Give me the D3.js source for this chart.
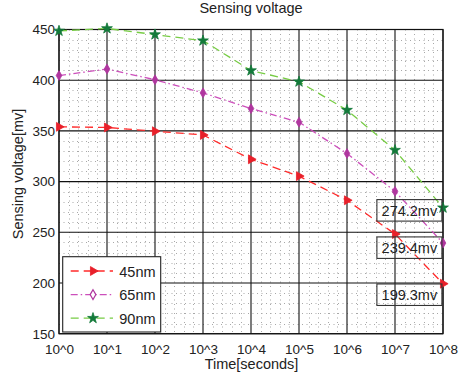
<!DOCTYPE html>
<html>
<head>
<meta charset="utf-8">
<script src="https://cdn.jsdelivr.net/npm/d3@7/dist/d3.min.js"></script>
<style>
  html, body { margin: 0; padding: 0; background: #fff; }
  svg { display: block; font-family: "Liberation Sans", Arial, sans-serif; }
</style>
</head>
<body>
<div id="chart"></div>
<script>
// decades 10^0 .. 10^8, drawn on an evenly spaced exponent axis
const exponents = [0, 1, 2, 3, 4, 5, 6, 7, 8];
const xTickLabels = exponents.map((e) => `10^${e}`);
const yTicks = [150, 200, 250, 300, 350, 400, 450];

const v45 = [354, 353.4, 349.7, 346, 322, 305.4, 281.6, 248.3, 199.3];
const v65 = [404.6, 411, 400.4, 387.5, 372, 358.6, 327.7, 290.4, 239.4];
const v90 = [448.6, 451, 445, 439, 409.5, 398.5, 370.5, 331, 274.2];

const seriesNames = ["45nm", "65nm", "90nm"];
const annotations = [
  { text: "274.2mv", x: 7.3, y: 271.4 },
  { text: "239.4mv", x: 7.3, y: 234.6 },
  { text: "199.3mv", x: 7.3, y: 188.2 },
];

const width = 462, height = 377;
const margin = { top: 29.5, right: 19, bottom: 43.3, left: 59 };
const innerWidth = width - margin.left - margin.right;
const innerHeight = height - margin.top - margin.bottom;

const svg = d3.select("#chart").append("svg").attr("width", width).attr("height", height);

const x = d3.scaleLinear().domain([0, 8]).range([margin.left, margin.left + innerWidth]);
const y = d3.scaleLinear().domain([150, 450]).range([margin.top + innerHeight, margin.top]);

const styles = [
  { name: seriesNames[0], values: v45, line: "#ff2a2a", marker: "#e8202a", dash: "8,5", symbol: d3.symbolTriangle, size: 34, rotate: 90 },
  { name: seriesNames[1], values: v65, line: "#cc4fbb", marker: "#b0369f", dash: "7,3,1.5,3", symbol: d3.symbolDiamond, size: 28, rotate: 0 },
  { name: seriesNames[2], values: v90, line: "#77cc44", marker: "#137a3a", dash: "8,5", symbol: d3.symbolStar, size: 36, rotate: 0 },
];

// minor grid (dotted)
const minorX = d3.range(0, 8.001, 0.2).filter((v) => Math.abs(v - Math.round(v)) > 0.01);
const minorY = d3.range(150, 451, 10).filter((v) => v % 50 !== 0);
const minor = svg.append("g").attr("stroke", "#a8a8a8").attr("stroke-width", 1).attr("stroke-dasharray", "1,3.5");
minor.selectAll("line.mx").data(minorX).enter().append("line")
  .attr("x1", (d) => Math.round(x(d)) + 0.5).attr("x2", (d) => Math.round(x(d)) + 0.5)
  .attr("y1", margin.top).attr("y2", margin.top + innerHeight);
minor.selectAll("line.my").data(minorY).enter().append("line")
  .attr("y1", (d) => Math.round(y(d)) + 0.5).attr("y2", (d) => Math.round(y(d)) + 0.5)
  .attr("x1", margin.left).attr("x2", margin.left + innerWidth);

// major grid
const grid = svg.append("g").attr("stroke", "#111").attr("stroke-width", 1.1);
grid.selectAll("line.gx").data(exponents).enter().append("line")
  .attr("x1", (d) => x(d)).attr("x2", (d) => x(d))
  .attr("y1", margin.top).attr("y2", margin.top + innerHeight);
grid.selectAll("line.gy").data(yTicks).enter().append("line")
  .attr("y1", (d) => y(d)).attr("y2", (d) => y(d))
  .attr("x1", margin.left).attr("x2", margin.left + innerWidth);

// axes (labels only, box drawn separately)
const xAxis = svg.append("g").attr("transform", `translate(0,${margin.top + innerHeight})`)
  .call(d3.axisBottom(x).tickValues(exponents).tickSize(0).tickPadding(11).tickFormat((d, i) => xTickLabels[i]));
const yAxis = svg.append("g").attr("transform", `translate(${margin.left},0)`)
  .call(d3.axisLeft(y).tickValues(yTicks).tickSize(0).tickPadding(4));
[xAxis, yAxis].forEach((g) => {
  g.select(".domain").remove();
  g.selectAll("text").attr("font-size", 13.5).attr("fill", "#222").attr("font-family", "Liberation Sans, Arial, sans-serif");
});

svg.append("rect")
  .attr("x", margin.left).attr("y", margin.top)
  .attr("width", innerWidth).attr("height", innerHeight)
  .attr("fill", "none").attr("stroke", "#111").attr("stroke-width", 1.2);

// series
const line = d3.line().x((d, i) => x(exponents[i])).y((d) => y(d));
styles.forEach((s) => {
  svg.append("path").datum(s.values)
    .attr("d", line).attr("fill", "none")
    .attr("stroke", s.line).attr("stroke-width", 1.3).attr("stroke-dasharray", s.dash);
  svg.append("g").selectAll("path").data(s.values).enter().append("path")
    .attr("d", d3.symbol().type(s.symbol).size(s.size))
    .attr("transform", (d, i) => `translate(${x(exponents[i])},${y(d)}) rotate(${s.rotate})`)
    .attr("fill", s.marker).attr("stroke", s.marker).attr("stroke-width", 0.8);
});

// value labels with boxes
annotations.forEach((a) => {
  const cx = x(a.x), cy = y(a.y);
  svg.append("rect")
    .attr("x", cx - 32.5).attr("y", cy - 11)
    .attr("width", 65).attr("height", 21.5)
    .attr("fill", "none").attr("stroke", "#333").attr("stroke-width", 1.1);
  svg.append("text")
    .attr("x", cx).attr("y", cy + 5.5).attr("text-anchor", "middle")
    .attr("font-size", 14.5).attr("fill", "#222").text(a.text);
});

// legend
const legend = svg.append("g");
legend.append("rect")
  .attr("x", 62.7).attr("y", 256.7).attr("width", 98).attr("height", 75.3)
  .attr("fill", "#fff").attr("stroke", "#222").attr("stroke-width", 1.1);
styles.forEach((s, i) => {
  const ly = 271 + i * 23.6;
  legend.append("line")
    .attr("x1", 70.7).attr("x2", 113).attr("y1", ly).attr("y2", ly)
    .attr("stroke", s.line).attr("stroke-width", 1.3).attr("stroke-dasharray", s.dash);
  legend.append("path")
    .attr("d", d3.symbol().type(s.symbol).size(s.size))
    .attr("transform", `translate(93,${ly}) rotate(${s.rotate})`)
    .attr("fill", i === 1 ? "#fff" : s.marker).attr("stroke", s.marker).attr("stroke-width", i === 1 ? 1.2 : 0.8);
  legend.append("text")
    .attr("x", 119.3).attr("y", ly + 5.5).attr("font-size", 14.5).attr("fill", "#222").text(s.name);
});

// titles
svg.append("text").attr("x", 251).attr("y", 13).attr("text-anchor", "middle")
  .attr("font-size", 14.5).attr("fill", "#222").text("Sensing voltage");
svg.append("text").attr("x", 251.5).attr("y", 369).attr("text-anchor", "middle")
  .attr("font-size", 14.5).attr("fill", "#222").text("Time[seconds]");
svg.append("text").attr("transform", "translate(23,174) rotate(-90)").attr("text-anchor", "middle")
  .attr("font-size", 14.5).attr("fill", "#222").text("Sensing voltage[mv]");
</script>
</body>
</html>
